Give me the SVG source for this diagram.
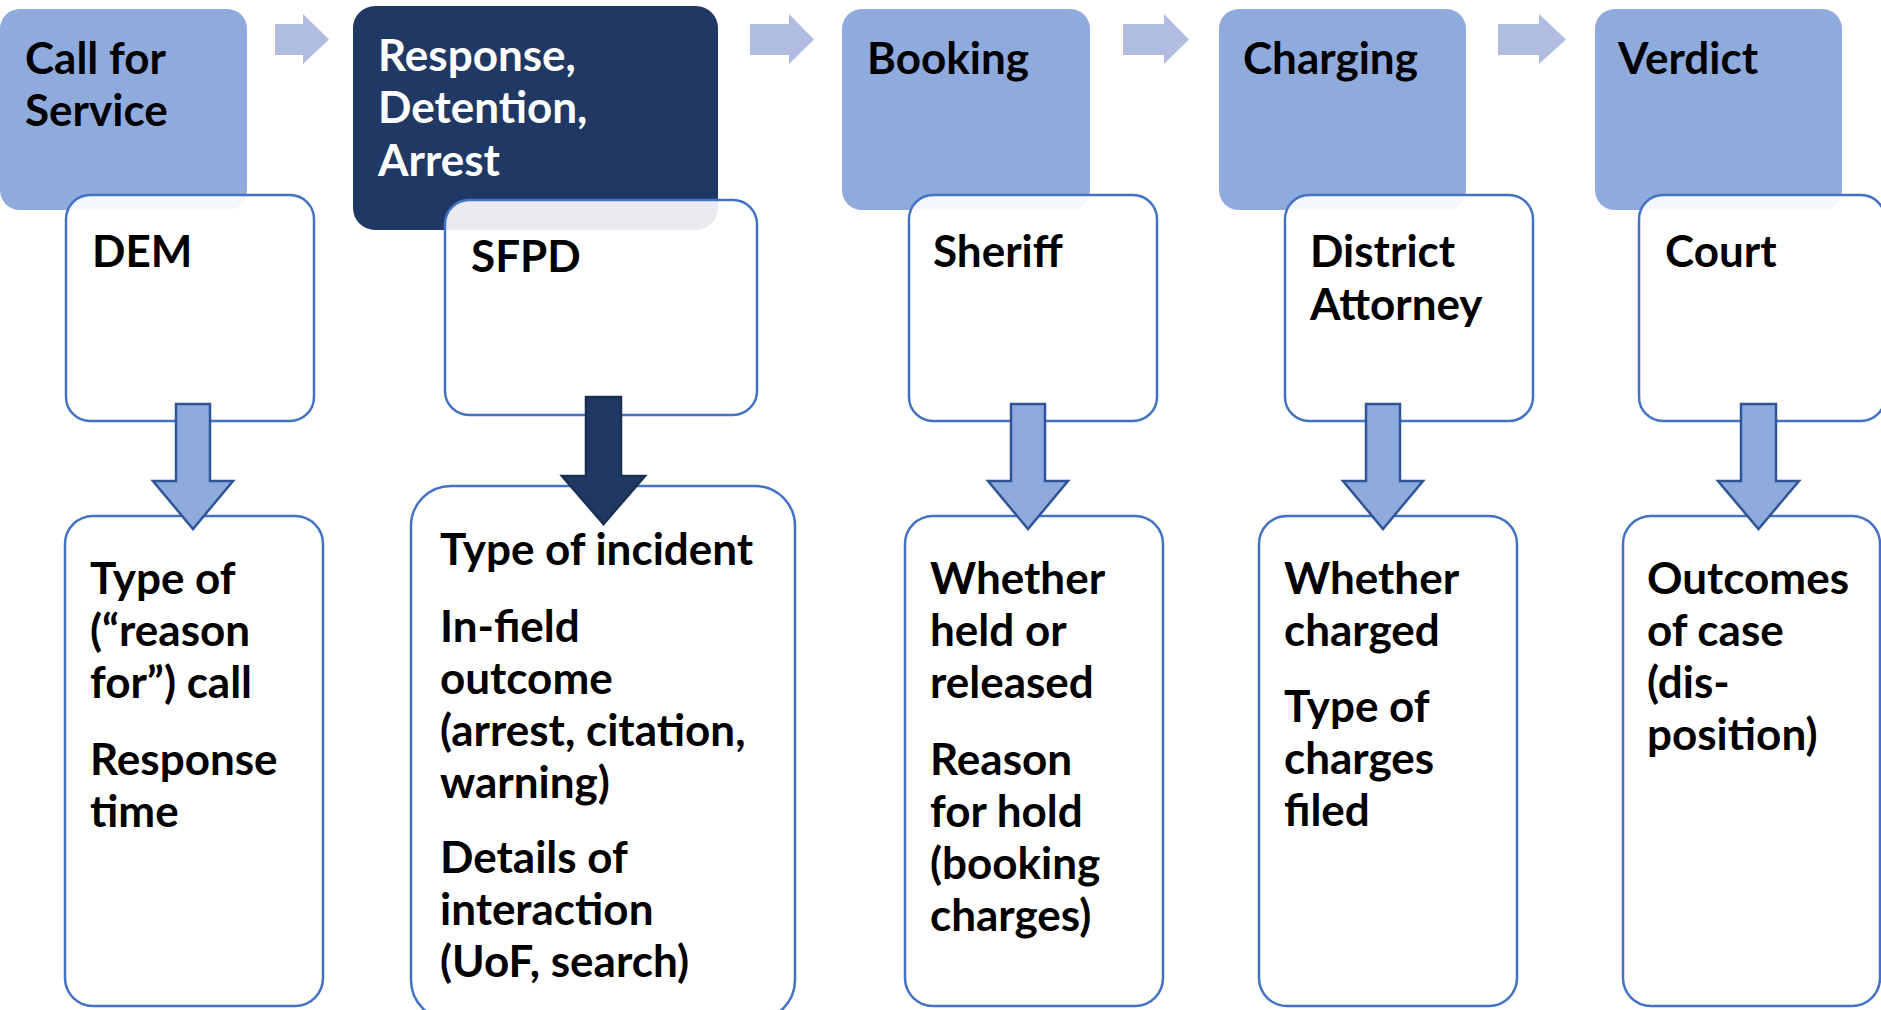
<svg xmlns="http://www.w3.org/2000/svg" width="1881" height="1010" viewBox="0 0 1881 1010">
<style>
.hdr{fill:#8FAADC}
.hdrDark{fill:#203864}
.sub{fill:#FFFFFF;fill-opacity:0.9;stroke:#4472C4;stroke-width:2.5}
.info{fill:#FFFFFF;stroke:#4472C4;stroke-width:2.5}
.t{font-family:Lato,"Open Sans","Liberation Sans",sans-serif;font-weight:bold;font-size:44px;fill:#000000}
.tw{fill:#FFFFFF}
.harrow{fill:#B1BDE0}
.darrow{fill:#8FAADC;stroke:#2F5597;stroke-width:2.5;stroke-linejoin:miter}
.darrowDark{fill:#203864;stroke:#1B2F55;stroke-width:2.5}
</style>
<rect width="1881" height="1010" fill="#FFFFFF"/>

<g id="call-for-service">
<rect class="hdr" x="0" y="9" width="247" height="201" rx="20"/>
<text class="t" x="25" y="74">Call for</text>
<text class="t" x="25" y="126">Service</text>
</g>
<g id="response">
<rect class="hdrDark" x="353" y="6" width="365" height="224" rx="22"/>
<text class="t tw" x="378" y="71">Response,</text>
<text class="t tw" x="378" y="123">Detention,</text>
<text class="t tw" x="378" y="176">Arrest</text>
</g>
<g id="booking">
<rect class="hdr" x="842" y="9" width="248" height="201" rx="20"/>
<text class="t" x="867" y="74">Booking</text>
</g>
<g id="charging">
<rect class="hdr" x="1219" y="9" width="247" height="201" rx="20"/>
<text class="t" x="1243" y="74">Charging</text>
</g>
<g id="verdict">
<rect class="hdr" x="1595" y="9" width="247" height="201" rx="20"/>
<text class="t" x="1618" y="74">Verdict</text>
</g>

<g id="dem">
<rect class="sub" x="66" y="195" width="248" height="226" rx="24"/>
<text class="t" x="92" y="267">DEM</text>
</g>
<g id="sfpd">
<rect class="sub" x="445" y="200" width="312" height="215" rx="24"/>
<text class="t" x="471" y="272">SFPD</text>
</g>
<g id="sheriff">
<rect class="sub" x="909" y="195" width="248" height="226" rx="24"/>
<text class="t" x="933" y="267">Sheriff</text>
</g>
<g id="district-attorney">
<rect class="sub" x="1285" y="195" width="248" height="226" rx="24"/>
<text class="t" x="1310" y="267">District</text>
<text class="t" x="1310" y="320">Attorney</text>
</g>
<g id="court">
<rect class="sub" x="1639" y="195" width="246" height="226" rx="24"/>
<text class="t" x="1665" y="267">Court</text>
</g>

<g id="dem-data">
<rect class="info" x="65" y="516" width="258" height="490" rx="28"/>
<text class="t" x="90" y="594">Type of</text>
<text class="t" x="90" y="646">(“reason</text>
<text class="t" x="90" y="698">for”) call</text>
<text class="t" x="90" y="775">Response</text>
<text class="t" x="90" y="827">time</text>
</g>
<g id="sfpd-data">
<rect class="info" x="411" y="486" width="384" height="534" rx="40"/>
<text class="t" x="440" y="565">Type of incident</text>
<text class="t" x="440" y="642">In-field</text>
<text class="t" x="440" y="694">outcome</text>
<text class="t" x="440" y="746">(arrest, citation,</text>
<text class="t" x="440" y="798">warning)</text>
<text class="t" x="440" y="873">Details of</text>
<text class="t" x="440" y="925">interaction</text>
<text class="t" x="440" y="977">(UoF, search)</text>
</g>
<g id="sheriff-data">
<rect class="info" x="905" y="516" width="258" height="490" rx="28"/>
<text class="t" x="930" y="594">Whether</text>
<text class="t" x="930" y="646">held or</text>
<text class="t" x="930" y="698">released</text>
<text class="t" x="930" y="775">Reason</text>
<text class="t" x="930" y="827">for hold</text>
<text class="t" x="930" y="879">(booking</text>
<text class="t" x="930" y="931">charges)</text>
</g>
<g id="da-data">
<rect class="info" x="1259" y="516" width="258" height="490" rx="28"/>
<text class="t" x="1284" y="594">Whether</text>
<text class="t" x="1284" y="646">charged</text>
<text class="t" x="1284" y="722">Type of</text>
<text class="t" x="1284" y="774">charges</text>
<text class="t" x="1284" y="826">filed</text>
</g>
<g id="court-data">
<rect class="info" x="1623" y="516" width="257" height="490" rx="28"/>
<text class="t" x="1647" y="594">Outcomes</text>
<text class="t" x="1647" y="646">of case</text>
<text class="t" x="1647" y="698">(dis-</text>
<text class="t" x="1647" y="750">position)</text>
</g>

<g id="connectors">
<path class="harrow" d="M275,24 H303 V14 L329,39.5 L303,64 V55 H275 Z"/>
<path class="harrow" d="M750,24 H789 V14 L814,39.5 L789,64 V55 H750 Z"/>
<path class="harrow" d="M1123,24 H1164 V14 L1189,39.5 L1164,64 V55 H1123 Z"/>
<path class="harrow" d="M1498,24 H1539 V14 L1566,39.5 L1539,64 V55 H1498 Z"/>
<path class="darrow" d="M176,404 H210 V481 H233 L193,529 L153,481 H176 Z"/>
<path class="darrowDark" d="M586,397 H621 V476 H645 L603.5,524 L562,476 H586 Z"/>
<path class="darrow" d="M1011,404 H1045 V481 H1068 L1028,529 L988,481 H1011 Z"/>
<path class="darrow" d="M1366,404 H1400 V481 H1423 L1383,529 L1343,481 H1366 Z"/>
<path class="darrow" d="M1741,404 H1776 V481 H1799 L1758.5,529 L1718,481 H1741 Z"/>
</g>
</svg>
